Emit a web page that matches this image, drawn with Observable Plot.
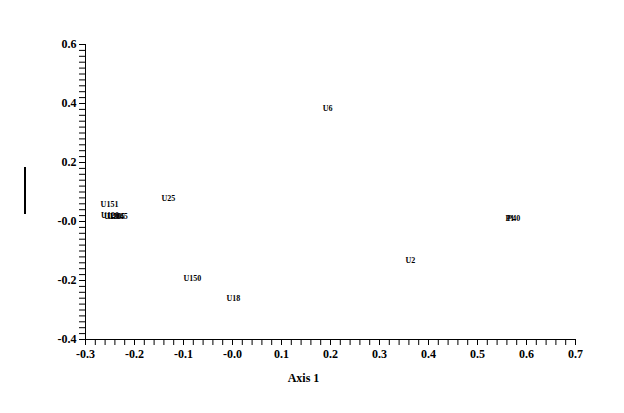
<!DOCTYPE html>
<html>
<head>
<meta charset="utf-8">
<script src="https://cdn.jsdelivr.net/npm/d3@7"></script>
<script src="https://cdn.jsdelivr.net/npm/@observablehq/plot@0.6"></script>
<style>
  html, body { margin: 0; padding: 0; background: #fff; }
  #wrap { position: relative; width: 624px; height: 413px; }
  #ybar { position: absolute; left: 24px; top: 167px; width: 2px; height: 47px; background: #000; }
</style>
</head>
<body>
<div id="wrap"><div id="ybar"></div></div>
<script>
const labels = ["U6","U25","U151","U120","U130","U105","U145","U150","U18","U2","P1","P40"];
const axis1  = [0.194,-0.131,-0.251,-0.250,-0.244,-0.238,-0.232,-0.082,0.002,0.363,0.566,0.574];
const axis2  = [0.383,0.078,0.058,0.020,0.018,0.018,0.016,-0.193,-0.261,-0.132,0.010,0.010];

const xMajor = [-0.3,-0.2,-0.1,0,0.1,0.2,0.3,0.4,0.5,0.6,0.7];
const yMajor = [-0.4,-0.2,0,0.2,0.4,0.6];
const xMinor = d3.range(-30, 71, 2).map(v => v / 100);
const yMinor = d3.range(-40, 61, 2).map(v => v / 100);

const data = labels.map((l, i) => ({label: l, x: axis1[i], y: axis2[i]}));
const fmt = v => (Math.abs(v) < 1e-9 ? "-0.0" : d3.format(".1f")(v).replace("−", "-"));

const serif = "'Liberation Serif', 'Times New Roman', serif";

const chart = Plot.plot({
  width: 624,
  height: 413,
  marginLeft: 85,
  marginRight: 49,
  marginTop: 44,
  marginBottom: 74,
  style: {fontFamily: serif, fontWeight: "bold", fontSize: "12px", color: "#000", background: "#fff"},
  x: {domain: [-0.3, 0.7]},
  y: {domain: [-0.4, 0.6]},
  marks: [
    Plot.axisX({ticks: xMinor, tickSize: 6, tickFormat: null, text: null, label: null, strokeWidth: 1}),
    Plot.axisX({ticks: xMajor, tickSize: 6, tickPadding: 4, tickFormat: fmt, label: null, fontSize: 12, fontWeight: "bold"}),
    Plot.axisY({ticks: yMinor, tickSize: 6, text: null, label: null}),
    Plot.axisY({ticks: yMajor, tickSize: 6, tickPadding: 3, tickFormat: fmt, label: null, fontSize: 12, fontWeight: "bold"}),
    Plot.ruleY([-0.4], {x1: -0.3, x2: 0.7, stroke: "#000"}),
    Plot.ruleX([-0.3], {y1: -0.4, y2: 0.6, stroke: "#000"}),
    Plot.text(data, {x: "x", y: "y", text: "label", fontSize: 8, fontWeight: "bold", fill: "#000"}),
    Plot.text(["Axis 1"], {frameAnchor: "bottom", dy: 42, dx: -27, fontSize: 12, fontWeight: "bold", fill: "#000"})
  ]
});
document.getElementById("wrap").prepend(chart);
</script>
</body>
</html>
